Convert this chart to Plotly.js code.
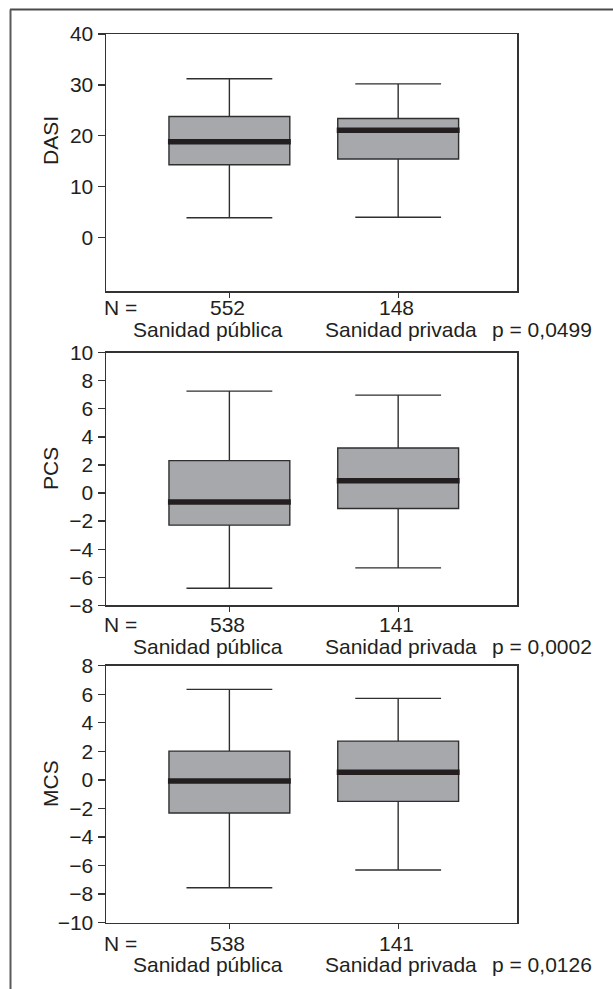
<!DOCTYPE html>
<html>
<head>
<meta charset="utf-8">
<script src="https://cdn.plot.ly/plotly-3.0.1.min.js"></script>
<style>html,body{margin:0;padding:0;background:#fff;}#chart{width:613px;height:989px;}</style>
</head>
<body>
<div id="chart"></div>
<script>
// ---- data ----
var categories = ['Sanidad pública', 'Sanidad privada'];
var positions = [0, 1];

var dasiN = ['552', '148'];
var dasiLower = [3.9, 4.0];
var dasiQ1 = [14.3, 15.45];
var dasiMedian = [18.85, 21.1];
var dasiQ3 = [23.8, 23.4];
var dasiUpper = [31.2, 30.2];

var pcsN = ['538', '141'];
var pcsLower = [-6.79, -5.33];
var pcsQ1 = [-2.29, -1.10];
var pcsMedian = [-0.64, 0.88];
var pcsQ3 = [2.31, 3.21];
var pcsUpper = [7.26, 6.98];

var mcsN = ['538', '141'];
var mcsLower = [-7.55, -6.31];
var mcsQ1 = [-2.32, -1.50];
var mcsMedian = [-0.08, 0.53];
var mcsQ3 = [2.02, 2.72];
var mcsUpper = [6.34, 5.71];

var panelTitles = ['DASI', 'PCS', 'MCS'];
var pValues = ['p = 0,0499', 'p = 0,0002', 'p = 0,0126'];
var dasiTicks = [0, 10, 20, 30, 40];
var pcsTicks = [-8, -6, -4, -2, 0, 2, 4, 6, 8, 10];
var mcsTicks = [-10, -8, -6, -4, -2, 0, 2, 4, 6, 8];

// ---- styling / layout ----
var W = 613, H = 989;
var FONT = 'Liberation Sans, Arial, Helvetica, sans-serif';
var FS = 21;
var TXT = '#231f20';
var BOXW = 0.716;
var px = function (v) { return 1 - v / H; };

var panels = [
  {n: dasiN, lo: dasiLower, q1: dasiQ1, med: dasiMedian, q3: dasiQ3, hi: dasiUpper,
   ticks: dasiTicks, range: [-10.5, 40], top: 34, bottom: 291, titleY: 141, row1: 307, row2: 329},
  {n: pcsN, lo: pcsLower, q1: pcsQ1, med: pcsMedian, q3: pcsQ3, hi: pcsUpper,
   ticks: pcsTicks, range: [-8, 10], top: 352.7, bottom: 605.3, titleY: 469, row1: 624.5, row2: 646.5},
  {n: mcsN, lo: mcsLower, q1: mcsQ1, med: mcsMedian, q3: mcsQ3, hi: mcsUpper,
   ticks: mcsTicks, range: [-10, 8], top: 665.7, bottom: 922.7, titleY: 784, row1: 943.5, row2: 964}
];

var data = [];
var layout = {
  width: W, height: H,
  margin: {l: 0, r: 0, t: 0, b: 0},
  paper_bgcolor: '#fff', plot_bgcolor: '#fff',
  showlegend: false,
  font: {family: FONT, size: FS, color: TXT},
  annotations: [],
  shapes: [
    {type: 'line', xref: 'paper', yref: 'paper', x0: 10 / W, x1: 1.01, y0: px(9.5), y1: px(9.5),
     line: {color: '#4a4a4a', width: 2}},
    {type: 'line', xref: 'paper', yref: 'paper', x0: 10.5 / W, x1: 10.5 / W, y0: px(9.5), y1: -0.01,
     line: {color: '#5a5a5a', width: 2}}
  ]
};

function txt(extra) {
  var a = {showarrow: false, font: {family: FONT, size: FS, color: TXT}};
  for (var k in extra) a[k] = extra[k];
  return a;
}

panels.forEach(function (p, i) {
  var sfx = i === 0 ? '' : String(i + 1);
  var xa = 'x' + sfx, ya = 'y' + sfx;
  data.push({
    type: 'box', xaxis: xa, yaxis: ya,
    x: positions, q1: p.q1, median: p.med, q3: p.q3, lowerfence: p.lo, upperfence: p.hi,
    width: BOXW, whiskerwidth: 0.71, boxpoints: false,
    fillcolor: '#a7a8ac', line: {color: '#2f2f2f', width: 1.4}, hoverinfo: 'skip'
  });
  positions.forEach(function (pos, k) {
    data.push({
      type: 'scatter', mode: 'lines', xaxis: xa, yaxis: ya,
      x: [pos - BOXW / 2 - 0.006, pos + BOXW / 2 + 0.006], y: [p.med[k], p.med[k]],
      line: {color: '#231f20', width: 5.5}, hoverinfo: 'skip'
    });
  });
  layout['xaxis' + sfx] = {
    domain: [106 / W, 517 / W], range: [-0.731, 1.704], anchor: ya,
    tickmode: 'array', tickvals: positions, showticklabels: false,
    ticks: 'outside', ticklen: 5, tickwidth: 1.3, tickcolor: '#333',
    showline: true, mirror: true, linecolor: '#333', linewidth: 1.5,
    showgrid: false, zeroline: false, fixedrange: true
  };
  layout['yaxis' + sfx] = {
    domain: [px(p.bottom), px(p.top)], range: p.range, anchor: xa,
    tickmode: 'array', tickvals: p.ticks,
    ticks: 'outside', ticklen: 7, tickwidth: 1.3, tickcolor: '#333',
    showline: true, mirror: true, linecolor: '#333', linewidth: 1.5,
    showgrid: false, zeroline: false, fixedrange: true,
    tickfont: {family: FONT, size: FS, color: TXT}
  };
  // axis title
  layout.annotations.push(txt({
    xref: 'paper', yref: 'paper', x: 50 / W, y: px(p.titleY), xanchor: 'center', yanchor: 'middle',
    text: panelTitles[i], textangle: -90
  }));
  // N =
  layout.annotations.push(txt({
    xref: 'paper', yref: 'paper', x: 102 / W, y: px(p.row1), xanchor: 'left', yanchor: 'middle',
    text: 'N ='
  }));
  // N values under ticks
  p.n.forEach(function (nv, k) {
    layout.annotations.push(txt({
      xref: xa, yref: 'paper', x: positions[k], y: px(p.row1), xanchor: 'center', yanchor: 'middle',
      xshift: -2, text: nv
    }));
  });
  // categories
  categories.forEach(function (c, k) {
    layout.annotations.push(txt({
      xref: xa, yref: 'paper', x: positions[k], y: px(p.row2), xanchor: 'center', yanchor: 'middle',
      xshift: k === 0 ? -21 : 3, text: c
    }));
  });
  // p value
  layout.annotations.push(txt({
    xref: 'paper', yref: 'paper', x: 490 / W, y: px(p.row2), xanchor: 'left', yanchor: 'middle',
    text: pValues[i]
  }));
});

Plotly.newPlot('chart', data, layout, {displayModeBar: false, staticPlot: true});
</script>
</body>
</html>
